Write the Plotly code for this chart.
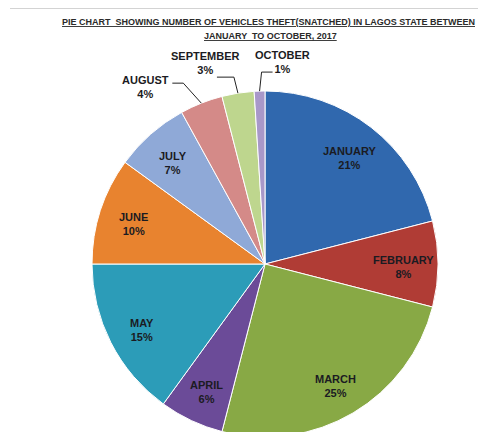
import math
import plotly.graph_objects as go

# ---- data ----
months = ["JANUARY", "FEBRUARY", "MARCH", "APRIL", "MAY",
          "JUNE", "JULY", "AUGUST", "SEPTEMBER", "OCTOBER"]
percent = [21, 8, 25, 6, 15, 10, 7, 4, 3, 1]
title_lines = ["PIE CHART  SHOWING NUMBER OF VEHICLES THEFT(SNATCHED) IN LAGOS STATE BETWEEN",
               "JANUARY  TO OCTOBER, 2017"]

# ---- style ----
colors = ["#3068AE", "#B03C35", "#88A945", "#6B4B98", "#2C9CB8",
          "#E8832F", "#8FA9D7", "#D48A88", "#BED68E", "#A898C9"]
OFF = 8                      # page body margin
W = 486
R = 173
CX, CY = 265, 264            # desired on-screen centre
H = CY - OFF + R             # so that pie centre lands at CY on screen
inner_factor = 0.8
inner_dy = 3
label_font = dict(family="Liberation Sans, Arial, sans-serif", size=11, color="#1b1b22")
# outside labels: offsets (px) relative to slice-edge point: text centre, elbow, end
outside = {
    "AUGUST": dict(text=(-56, -16), elbow=(-18, -20), end=(-29, -20)),
    "SEPTEMBER": dict(text=(-32, -30), elbow=(-4, -16), end=(-21, -16)),
    "OCTOBER": dict(text=(23, -29), elbow=(2, -19), end=(13, -19)),
}


def paper(x, y):
    """screen px -> paper coords"""
    return (x - OFF) / W, 1 - (y - OFF) / H


fx = CX - OFF
fig = go.Figure(go.Pie(
    labels=months, values=percent, sort=False, direction="clockwise", rotation=0,
    marker=dict(colors=colors, line=dict(color="white", width=1)),
    textinfo="none", hoverinfo="label+percent", showlegend=False,
    domain=dict(x=[(fx - R) / W, (fx + R) / W], y=[0, 2 * R / H]),
))

annotations = []
shapes = []
total = sum(percent)
cum = 0
for m, p in zip(months, percent):
    mid = (cum + p / 2) / total * 2 * math.pi
    cum += p
    sx, sy = math.sin(mid), -math.cos(mid)
    txt = f"<b>{m}</b><br><b>{p}%</b>"
    if m in outside:
        o = outside[m]
        ex, ey = CX + R * sx, CY + R * sy
        tx, ty = paper(ex + o["text"][0], ey + o["text"][1])
        annotations.append(dict(x=tx, y=ty, xref="paper", yref="paper", text=txt,
                                showarrow=False, font=label_font, align="center",
                                xanchor="center", yanchor="middle"))
        pts = [(ex, ey), (ex + o["elbow"][0], ey + o["elbow"][1]),
               (ex + o["end"][0], ey + o["end"][1])]
        pp = [paper(*q) for q in pts]
        path = "M {} {} L {} {} L {} {}".format(pp[0][0], pp[0][1], pp[1][0], pp[1][1],
                                                pp[2][0], pp[2][1])
        shapes.append(dict(type="path", path=path, xref="paper", yref="paper",
                           line=dict(color="#222222", width=1)))
    else:
        lx, ly = paper(CX + inner_factor * R * sx,
                       CY + inner_factor * R * sy + inner_dy)
        annotations.append(dict(x=lx, y=ly, xref="paper", yref="paper", text=txt,
                                showarrow=False, font=label_font, align="center",
                                xanchor="center", yanchor="middle"))

title_font = dict(family="Liberation Sans, Arial, sans-serif", size=9, color="#2a2a2a")
for i, line in enumerate(title_lines):
    tx, ty = paper(268 if i == 0 else 270, 22 + 14 * i)
    annotations.append(dict(x=tx, y=ty, xref="paper", yref="paper",
                            text=f"<u><b>{line}</b></u>", showarrow=False,
                            font=title_font, xanchor="center", yanchor="middle"))

y_line = paper(0, 8)[1]
shapes.append(dict(type="line", xref="paper", yref="paper",
                   x0=paper(10, 0)[0], x1=1, y0=y_line, y1=y_line,
                   line=dict(color="#a8a8a8", width=1)))

fig.update_layout(width=W, height=H, margin=dict(l=0, r=0, t=0, b=0),
                  paper_bgcolor="white", plot_bgcolor="white",
                  annotations=annotations, shapes=shapes)
fig.write_html("out.html")
